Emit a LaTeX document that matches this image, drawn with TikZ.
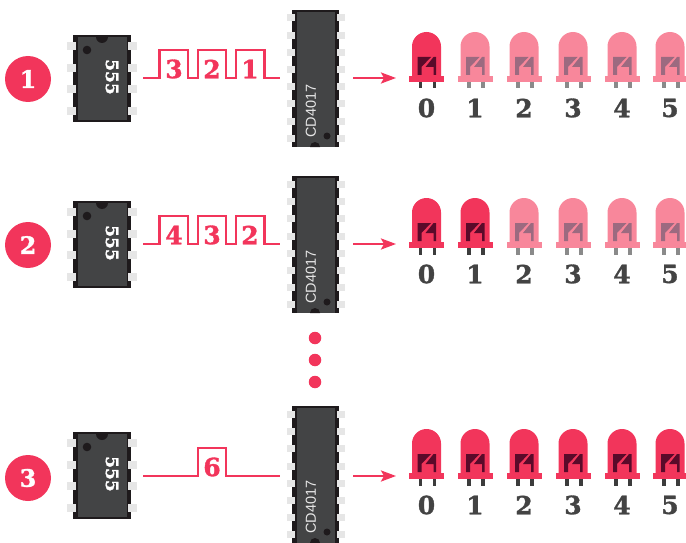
\documentclass[tikz,border=0pt]{standalone}
\usepackage{fontspec}
\usepackage{xcolor}
\usetikzlibrary{arrows.meta}
\newfontfamily\slabfont[BoldFeatures={FakeBold=1.3}]{DejaVu Serif}
\setsansfont{Liberation Sans}
\definecolor{red}{HTML}{F2355B}
\definecolor{redpale}{HTML}{F8879B}
\definecolor{chipgrey}{HTML}{434445}
\definecolor{chipedge}{HTML}{1E1A1C}
\definecolor{pingrey}{HTML}{E6E6E6}
\definecolor{digit}{HTML}{434343}
\definecolor{darkon}{HTML}{5A0A2A}
\definecolor{darkoff}{HTML}{9C6A80}
\definecolor{legon}{HTML}{3C3C3C}
\definecolor{legoff}{HTML}{8A8A8A}

\tikzset{
  pics/timer/.style={code={
    \fill[chipedge] (73,35) rectangle (131,122);
    \fill[chipgrey] (77.5,37) rectangle (126.5,120);
    \foreach \y in {46,68,89,111} {
      \fill[pingrey] (67,\y-4) rectangle (76,\y+4);
      \fill[pingrey] (128,\y-4) rectangle (137,\y+4);
    }
    \fill[chipedge] (96,37) arc[start angle=180,end angle=0,radius=6] -- cycle;
    \fill[chipedge] (87,50) circle (4.3);
  }},
  pics/counter/.style={code={
    \fill[chipedge] (292,10) rectangle (339,147);
    \fill[chipgrey] (297,12) rectangle (334.5,147);
    \foreach \y in {18,35.5,52.5,70,87,104,121,138} {
      \fill[pingrey] (287,\y-3.5) rectangle (295,\y+3.5);
      \fill[pingrey] (337,\y-3.5) rectangle (345,\y+3.5);
    }
    \fill[chipedge] (310,147) arc[start angle=180,end angle=360,radius=5] -- cycle;
    \fill[chipedge] (327,136) circle (3.5);
  }},
  pics/led/.style n args={3}{code={
    \fill[#3] (-8,82) rectangle (-4.5,88.5);
    \fill[#3] (6,82) rectangle (9.5,88.5);
    \fill[#1] (-14.5,77) -- (-14.5,46.5) arc[start angle=180,end angle=360,radius=14.5] -- (14.5,77) -- cycle;
    \fill[#1] (-17.5,75.7) rectangle (17.5,81.7);
    \fill[#2] (-9,57) -- (4.5,57) -- (-5,67) -- (-5,75) -- (-9,75) -- cycle;
    \fill[#2] (7,57) -- (9.5,57) -- (9.5,75) -- (7,75) -- (7,67) -- (-1,67) -- cycle;
  }}
}

\begin{document}
\begin{tikzpicture}[x=1pt,y=-1pt,
  num/.style={circle,fill=red,text=white,minimum size=46pt,inner sep=0pt,font=\slabfont\bfseries\fontsize{24}{24}\selectfont},
  val/.style={text=digit,inner sep=0pt,font=\slabfont\bfseries\fontsize{25}{25}\selectfont},
  pul/.style={text=red,inner sep=0pt,font=\slabfont\bfseries\fontsize{25}{25}\selectfont},
  wave/.style={draw=red,line width=2.4pt,line join=miter},
  ar/.style={-{Stealth[length=15pt,width=11pt,inset=3pt]},line width=2.4pt,red},
  lbl/.style={text=white,inner sep=0pt,rotate=-90,font=\slabfont\bfseries\fontsize{17}{17}\selectfont},
  cdl/.style={text=pingrey,inner sep=0pt,rotate=90,font=\sffamily\fontsize{14.5}{14.5}\selectfont},
  dotn/.style={circle,fill=red,minimum size=12.5pt,inner sep=0pt}]
\useasboundingbox (0,0) rectangle (686,543);
% row 1
\node[num] (n1) at (28,79) {1};
\pic at (0,0) {timer};
\node[lbl] (t1) at (112,77) {555};
\pic at (0,0) {counter};
\node[cdl] (c1) at (311,111) {CD4017};
\coordinate (w1) at (143,78);
\coordinate (x1) at (280,78);
\draw[wave] (w1) -- (159.5,78) -- (159.5,50) -- (188,50) -- (188,78) -- (198,78) -- (198,50) -- (226,50) -- (226,78) -- (236,78) -- (236,50) -- (264.5,50) -- (264.5,78) -- (x1);
\node[pul] (p13) at (174,69) {3};
\node[pul] (p12) at (212,69) {2};
\node[pul] (p11) at (250,69) {1};
\coordinate (a1) at (353,78);
\coordinate (b1) at (396,78);
\draw[ar] (a1) -- (b1);
\foreach \i/\x/\c/\d/\l in {0/426.5/red/darkon/legon,1/475/redpale/darkoff/legoff,2/524/redpale/darkoff/legoff,3/573/redpale/darkoff/legoff,4/622/redpale/darkoff/legoff,5/670/redpale/darkoff/legoff} {
  \pic at (\x,0) {led={\c}{\d}{\l}};
  \node[val] (v1\i) at (\x,108) {\i};
}
% row 2
\begin{scope}[yshift=-166pt]
\node[num] (n2) at (28,79) {2};
\pic at (0,0) {timer};
\node[lbl] (t2) at (112,77) {555};
\pic at (0,0) {counter};
\node[cdl] (c2) at (311,111) {CD4017};
\coordinate (w2) at (143,78);
\coordinate (x2) at (280,78);
\draw[wave] (w2) -- (159.5,78) -- (159.5,50) -- (188,50) -- (188,78) -- (198,78) -- (198,50) -- (226,50) -- (226,78) -- (236,78) -- (236,50) -- (264.5,50) -- (264.5,78) -- (x2);
\node[pul] (p24) at (174,69) {4};
\node[pul] (p23) at (212,69) {3};
\node[pul] (p22) at (250,69) {2};
\coordinate (a2) at (353,78);
\coordinate (b2) at (396,78);
\draw[ar] (a2) -- (b2);
\foreach \i/\x/\c/\d/\l in {0/426.5/red/darkon/legon,1/475/red/darkon/legon,2/524/redpale/darkoff/legoff,3/573/redpale/darkoff/legoff,4/622/redpale/darkoff/legoff,5/670/redpale/darkoff/legoff} {
  \pic at (\x,0) {led={\c}{\d}{\l}};
  \node[val] (v2\i) at (\x,108) {\i};
}
\end{scope}
% dots
\node[dotn] (d1) at (315,338) {};
\node[dotn] (d2) at (315,360) {};
\node[dotn] (d3) at (315,382) {};
% row 3
\begin{scope}[yshift=-397pt]
\node[num] (n3) at (28,81) {3};
\pic at (0,0) {timer};
\node[lbl] (t3) at (112,77) {555};
\pic at (0,-1) {counter};
\node[cdl] (c3) at (311,110) {CD4017};
\coordinate (w3) at (143,79);
\coordinate (x3) at (280,79);
\draw[wave] (w3) -- (198,79) -- (198,51) -- (226,51) -- (226,79) -- (x3);
\node[pul] (p36) at (212,70) {6};
\coordinate (a3) at (353,79);
\coordinate (b3) at (396,79);
\draw[ar] (a3) -- (b3);
\foreach \i/\x in {0/426.5,1/475,2/524,3/573,4/622,5/670} {
  \pic at (\x,0) {led={red}{darkon}{legon}};
  \node[val] (v3\i) at (\x,108) {\i};
}
\end{scope}
\end{tikzpicture}
\end{document}
